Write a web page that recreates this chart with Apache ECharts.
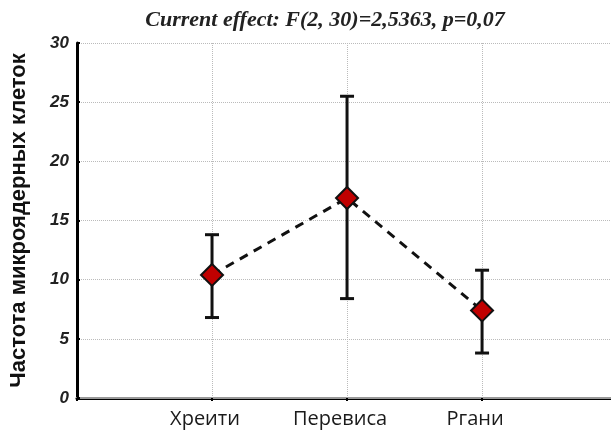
<!DOCTYPE html>
<html><head><meta charset="utf-8">
<script src="https://cdn.jsdelivr.net/npm/echarts@6/dist/echarts.min.js"></script>
<style>html,body{margin:0;padding:0;background:#fff}#c{width:611px;height:434px}</style>
</head><body><div id="c"></div>
<script>
const categories = ['Хреити', 'Перевиса', 'Ргани'];
const means = [10.4, 16.9, 7.4];
const lower = [6.8, 8.4, 3.8];
const upper = [13.8, 25.5, 10.8];
const yTicks = [0, 5, 10, 15, 20, 25, 30];
const titleText = 'Current effect: F(2, 30)=2,5363, p=0,07';
const yName = 'Частота микроядерных клеток';

const pts = means.map((v, i) => [i + 1, v]);
const bars = means.map((v, i) => [i + 1, lower[i], upper[i]]);

const chart = echarts.init(document.getElementById('c'));
chart.setOption({
  animation: false,
  title: {
    text: titleText, left: 320, textAlign: 'center', top: 4,
    textStyle: { fontFamily: 'Liberation Serif', fontStyle: 'italic', fontWeight: 'bold', fontSize: 22, color: '#222' }
  },
  grid: { left: 77, top: 43, bottom: 36, right: 0 },
  xAxis: [{
    type: 'value', min: 0, max: 3.955, interval: 1,
    axisLine: { show: true, onZero: false, lineStyle: { color: '#000', width: 3 } },
    axisTick: { show: true, length: 3, lineStyle: { color: '#000', width: 2 } },
    axisLabel: {
      margin: 11, fontSize: 20, color: '#1a1a1a', fontFamily: 'Open Sans',
      showMaxLabel: false, padding: [0, 14, 0, 0],
      formatter: v => (v >= 1 && v <= categories.length) ? categories[v - 1] : ''
    },
    splitLine: { show: true, lineStyle: { color: '#bbb', type: 'dotted', width: 1 } }
  }, {
    type: 'value', min: 0, max: 3.955, position: 'top',
    axisLine: { show: true, lineStyle: { color: '#999', width: 2 } },
    axisTick: { show: false }, axisLabel: { show: false }, splitLine: { show: false }
  }],
  yAxis: {
    type: 'value', min: yTicks[0], max: yTicks[yTicks.length - 1], interval: 5,
    name: yName, nameLocation: 'middle', nameGap: 47,
    nameTextStyle: { fontFamily: 'Liberation Sans', fontWeight: 'bold', fontSize: 22, color: '#111' },
    axisLine: { show: true, lineStyle: { color: '#000', width: 3 } },
    axisTick: { show: true, inside: true, length: 3, lineStyle: { color: '#000', width: 2 } },
    axisLabel: { margin: 8, fontFamily: 'Liberation Sans', fontStyle: 'italic', fontWeight: 'bold', fontSize: 17, color: '#222' },
    splitLine: { show: true, lineStyle: { color: '#bbb', type: 'dotted', width: 1 } }
  },
  series: [{
    type: 'custom', z: 3,
    data: bars,
    renderItem: function (params, api) {
      const x = api.value(0);
      const lo = api.coord([x, api.value(1)]);
      const hi = api.coord([x, api.value(2)]);
      const hw = 7;
      const st = { stroke: '#111', lineWidth: 3 };
      return { type: 'group', children: [
        { type: 'line', shape: { x1: lo[0], y1: lo[1], x2: hi[0], y2: hi[1] }, style: st },
        { type: 'line', shape: { x1: lo[0] - hw, y1: lo[1], x2: lo[0] + hw, y2: lo[1] }, style: st },
        { type: 'line', shape: { x1: hi[0] - hw, y1: hi[1], x2: hi[0] + hw, y2: hi[1] }, style: st }
      ]};
    }
  }, {
    type: 'line', z: 4, data: pts,
    lineStyle: { color: '#111', width: 3, type: [9, 7] },
    symbol: 'diamond', symbolSize: 22,
    itemStyle: { color: '#c00000', borderColor: '#111', borderWidth: 2 }
  }]
});
</script></body></html>
